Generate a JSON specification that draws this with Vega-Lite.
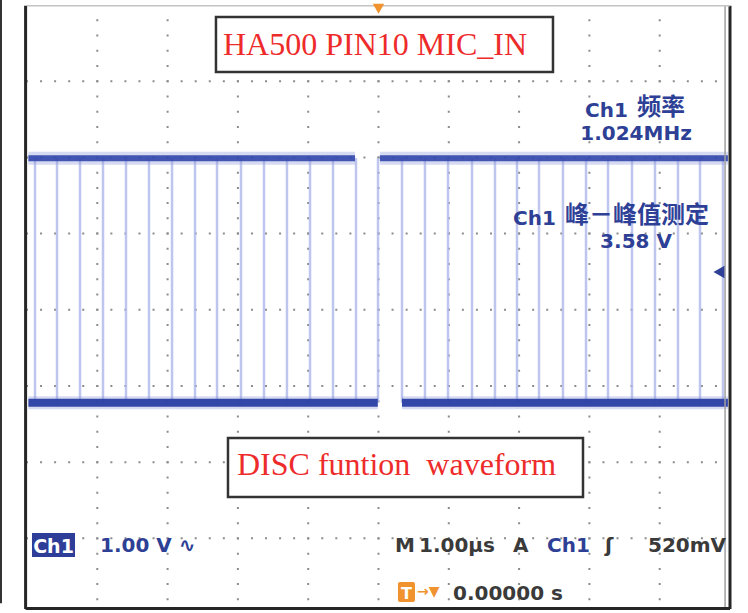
{
  "$schema": "https://vega.github.io/schema/vega-lite/v6.json",
  "width": 703,
  "height": 604,
  "autosize": {"type": "none"},
  "padding": {"left": 27, "top": 5, "right": 18, "bottom": 4},
  "background": "white",
  "config": {"view": {"stroke": null}},
  "datasets": {
    "gridx": [{"t": -4}, {"t": -3}, {"t": -2}, {"t": -1}, {"t": 0}, {"t": 1}, {"t": 2}, {"t": 3}, {"t": 4}],
    "gridy": [{"v": -3}, {"v": -2}, {"v": -1}, {"v": 0}, {"v": 1}, {"v": 2}, {"v": 3}],
    "edges": [
      {"t": -4.886}, {"t": -4.573}, {"t": -4.246}, {"t": -3.919}, {"t": -3.592}, {"t": -3.265}, {"t": -2.937}, {"t": -2.61},
      {"t": -2.297}, {"t": -1.956}, {"t": -1.629}, {"t": -1.302}, {"t": -0.974}, {"t": -0.647}, {"t": -0.32}, {"t": -0.007},
      {"t": 0.334}, {"t": 0.661}, {"t": 0.989}, {"t": 1.33}, {"t": 1.657}, {"t": 1.97}, {"t": 2.283}, {"t": 2.624},
      {"t": 2.952}, {"t": 3.265}, {"t": 3.606}, {"t": 3.933}, {"t": 4.26}, {"t": 4.573}, {"t": 4.9}
    ],
    "trace": [
      {"t": -4.98, "v": 1.99, "lvl": "hi", "seg": "h1"},
      {"t": -0.334, "v": 1.99, "lvl": "hi", "seg": "h1"},
      {"t": 0.02, "v": 1.99, "lvl": "hi", "seg": "h2"},
      {"t": 4.97, "v": 1.99, "lvl": "hi", "seg": "h2"},
      {"t": -4.98, "v": -1.22, "lvl": "lo", "seg": "l1"},
      {"t": -0.01, "v": -1.22, "lvl": "lo", "seg": "l1"},
      {"t": 0.334, "v": -1.22, "lvl": "lo", "seg": "l2"},
      {"t": 4.97, "v": -1.22, "lvl": "lo", "seg": "l2"}
    ],
    "whiteboxes": [
      {"t1": -2.312, "t2": 2.482, "v1": 3.843, "v2": 3.121},
      {"t1": -2.141, "t2": 2.909, "v1": -1.682, "v2": -2.457}
    ],
    "bluebox": [{"t1": -4.929, "t2": -4.317, "v1": -2.929, "v2": -3.244}],
    "orangebox": [{"t1": 0.277, "t2": 0.519, "v1": -3.572, "v2": -3.835}],
    "redtexts": [
      {"t": -2.212, "v": 3.344, "label": "HA500 PIN10 MIC_IN"},
      {"t": -2.013, "v": -2.168, "label": "DISC funtion \u00a0waveform"}
    ],
    "bluecenter": [
      {"t": 3.663, "v": 2.228, "label": "1.024MHz"},
      {"t": 3.663, "v": 0.811, "label": "3.58 V"}
    ],
    "bluecjk": [
      {"t": 3.677, "v": 2.556, "label": "频率"},
      {"t": 2.653, "v": 1.139, "label": "峰－峰值测定"}
    ],
    "blueleft": [
      {"t": 2.937, "v": 2.53, "label": "Ch1"},
      {"t": 1.913, "v": 1.113, "label": "Ch1"},
      {"t": -3.962, "v": -3.178, "label": "1.00 V ∿"},
      {"t": 2.397, "v": -3.178, "label": "Ch1"}
    ],
    "grayleft": [
      {"t": 0.235, "v": -3.178, "label": "M"},
      {"t": 0.576, "v": -3.178, "label": "1.00µs"},
      {"t": 1.913, "v": -3.178, "label": "A"},
      {"t": 3.222, "v": -3.178, "label": "ʃ"},
      {"t": 3.833, "v": -3.178, "label": "520mV"},
      {"t": 1.06, "v": -3.808, "label": "0.00000 s"}
    ],
    "whitech": [{"t": -4.623, "v": -3.192, "label": "Ch1"}],
    "whiteT": [{"t": 0.398, "v": -3.8, "label": "T"}],
    "orangeArrow": [{"t": 0.548, "v": -3.76, "label": "→▼"}],
    "topmarker": [{"t": 0, "v": 3.95}],
    "rightmarker": [{"t": 4.843, "v": 0.496}],
    "darkV": [{"t": -5.02}, {"t": 5}],
    "grayV": [{"t": 4.93}],
    "farleft": [{"t": -5.37}],
    "bottomB": [{"v": -3.92}],
    "topB": [{"v": 3.99}]
  },
  "layer": [
    {
      "data": {"name": "gridx"},
      "mark": {"type": "rule", "color": "#8c8c8c", "strokeWidth": 2, "strokeDash": [2, 13.24], "strokeDashOffset": 1},
      "encoding": {
        "x": {"field": "t", "type": "quantitative", "scale": {"domain": [-5, 5], "nice": false, "zero": false}, "axis": null},
        "y": {"datum": 4, "type": "quantitative", "scale": {"domain": [-3.927, 4], "nice": false, "zero": false}, "axis": null},
        "y2": {"datum": -3.927}
      }
    },
    {
      "data": {"name": "gridy"},
      "mark": {"type": "rule", "color": "#8c8c8c", "strokeWidth": 2, "strokeDash": [2, 12.06], "strokeDashOffset": 1},
      "encoding": {
        "x": {"datum": -5, "type": "quantitative", "scale": {"domain": [-5, 5], "nice": false, "zero": false}, "axis": null},
        "x2": {"datum": 5},
        "y": {"field": "v", "type": "quantitative", "scale": {"domain": [-3.927, 4], "nice": false, "zero": false}, "axis": null}
      }
    },
    {
      "data": {"name": "edges"},
      "mark": {"type": "rule", "color": "#aeb7ea", "strokeWidth": 2.5, "opacity": 0.8},
      "encoding": {
        "x": {"field": "t", "type": "quantitative", "scale": {"domain": [-5, 5], "nice": false, "zero": false}, "axis": null},
        "y": {"datum": 1.99, "type": "quantitative", "scale": {"domain": [-3.927, 4], "nice": false, "zero": false}, "axis": null},
        "y2": {"datum": -1.22}
      }
    },
    {
      "data": {"name": "trace"},
      "mark": {"type": "line", "color": "#8c97d8", "strokeWidth": 13, "opacity": 0.35, "strokeCap": "butt"},
      "encoding": {
        "x": {"field": "t", "type": "quantitative", "scale": {"domain": [-5, 5], "nice": false, "zero": false}, "axis": null},
        "y": {"field": "v", "type": "quantitative", "scale": {"domain": [-3.927, 4], "nice": false, "zero": false}, "axis": null},
        "detail": {"field": "seg"}
      }
    },
    {
      "data": {"name": "trace"},
      "transform": [{"filter": "datum.lvl == 'hi'"}],
      "mark": {"type": "line", "color": "#3246ab", "strokeWidth": 6, "opacity": 0.9, "strokeCap": "butt"},
      "encoding": {
        "x": {"field": "t", "type": "quantitative", "scale": {"domain": [-5, 5], "nice": false, "zero": false}, "axis": null},
        "y": {"field": "v", "type": "quantitative", "scale": {"domain": [-3.927, 4], "nice": false, "zero": false}, "axis": null},
        "detail": {"field": "seg"}
      }
    },
    {
      "data": {"name": "trace"},
      "transform": [{"filter": "datum.lvl == 'lo'"}],
      "mark": {"type": "line", "color": "#2a3fa4", "strokeWidth": 8, "opacity": 0.95, "strokeCap": "butt"},
      "encoding": {
        "x": {"field": "t", "type": "quantitative", "scale": {"domain": [-5, 5], "nice": false, "zero": false}, "axis": null},
        "y": {"field": "v", "type": "quantitative", "scale": {"domain": [-3.927, 4], "nice": false, "zero": false}, "axis": null},
        "detail": {"field": "seg"}
      }
    },
    {
      "data": {"name": "darkV"},
      "mark": {"type": "rule", "color": "#262626", "strokeWidth": 3},
      "encoding": {
        "x": {"field": "t", "type": "quantitative", "scale": {"domain": [-5, 5], "nice": false, "zero": false}, "axis": null},
        "y": {"datum": 3.99, "type": "quantitative", "scale": {"domain": [-3.927, 4], "nice": false, "zero": false}, "axis": null},
        "y2": {"datum": -3.927}
      }
    },
    {
      "data": {"name": "grayV"},
      "mark": {"type": "rule", "color": "#a0a0a0", "strokeWidth": 1.5},
      "encoding": {
        "x": {"field": "t", "type": "quantitative", "scale": {"domain": [-5, 5], "nice": false, "zero": false}, "axis": null},
        "y": {"datum": 3.99, "type": "quantitative", "scale": {"domain": [-3.927, 4], "nice": false, "zero": false}, "axis": null},
        "y2": {"datum": -3.927}
      }
    },
    {
      "data": {"name": "farleft"},
      "mark": {"type": "rule", "color": "#333333", "strokeWidth": 2},
      "encoding": {
        "x": {"field": "t", "type": "quantitative", "scale": {"domain": [-5, 5], "nice": false, "zero": false}, "axis": null},
        "y": {"datum": 4.07, "type": "quantitative", "scale": {"domain": [-3.927, 4], "nice": false, "zero": false}, "axis": null},
        "y2": {"datum": -3.85}
      }
    },
    {
      "data": {"name": "bottomB"},
      "mark": {"type": "rule", "color": "#262626", "strokeWidth": 3},
      "encoding": {
        "x": {"datum": -5.02, "type": "quantitative", "scale": {"domain": [-5, 5], "nice": false, "zero": false}, "axis": null},
        "x2": {"datum": 5},
        "y": {"field": "v", "type": "quantitative", "scale": {"domain": [-3.927, 4], "nice": false, "zero": false}, "axis": null}
      }
    },
    {
      "data": {"name": "topB"},
      "mark": {"type": "rule", "color": "#c4c4c4", "strokeWidth": 1.5},
      "encoding": {
        "x": {"datum": -5, "type": "quantitative", "scale": {"domain": [-5, 5], "nice": false, "zero": false}, "axis": null},
        "x2": {"datum": 5},
        "y": {"field": "v", "type": "quantitative", "scale": {"domain": [-3.927, 4], "nice": false, "zero": false}, "axis": null}
      }
    },
    {
      "data": {"name": "whiteboxes"},
      "mark": {"type": "rect", "fill": "white", "stroke": "#333333", "strokeWidth": 2.5},
      "encoding": {
        "x": {"field": "t1", "type": "quantitative", "scale": {"domain": [-5, 5], "nice": false, "zero": false}, "axis": null},
        "x2": {"field": "t2"},
        "y": {"field": "v1", "type": "quantitative", "scale": {"domain": [-3.927, 4], "nice": false, "zero": false}, "axis": null},
        "y2": {"field": "v2"}
      }
    },
    {
      "data": {"name": "bluebox"},
      "mark": {"type": "rect", "fill": "#2d3d98"},
      "encoding": {
        "x": {"field": "t1", "type": "quantitative", "scale": {"domain": [-5, 5], "nice": false, "zero": false}, "axis": null},
        "x2": {"field": "t2"},
        "y": {"field": "v1", "type": "quantitative", "scale": {"domain": [-3.927, 4], "nice": false, "zero": false}, "axis": null},
        "y2": {"field": "v2"}
      }
    },
    {
      "data": {"name": "orangebox"},
      "mark": {"type": "rect", "fill": "#f0922e", "cornerRadius": 2},
      "encoding": {
        "x": {"field": "t1", "type": "quantitative", "scale": {"domain": [-5, 5], "nice": false, "zero": false}, "axis": null},
        "x2": {"field": "t2"},
        "y": {"field": "v1", "type": "quantitative", "scale": {"domain": [-3.927, 4], "nice": false, "zero": false}, "axis": null},
        "y2": {"field": "v2"}
      }
    },
    {
      "data": {"name": "redtexts"},
      "mark": {"type": "text", "font": "Liberation Serif", "fontSize": 32, "color": "#ee2b2b", "align": "left", "baseline": "alphabetic"},
      "encoding": {
        "x": {"field": "t", "type": "quantitative", "scale": {"domain": [-5, 5], "nice": false, "zero": false}, "axis": null},
        "y": {"field": "v", "type": "quantitative", "scale": {"domain": [-3.927, 4], "nice": false, "zero": false}, "axis": null},
        "text": {"field": "label"}
      }
    },
    {
      "data": {"name": "bluecenter"},
      "mark": {"type": "text", "font": "DejaVu Sans", "fontSize": 20, "fontWeight": "bold", "color": "#2e3f96", "align": "center", "baseline": "alphabetic"},
      "encoding": {
        "x": {"field": "t", "type": "quantitative", "scale": {"domain": [-5, 5], "nice": false, "zero": false}, "axis": null},
        "y": {"field": "v", "type": "quantitative", "scale": {"domain": [-3.927, 4], "nice": false, "zero": false}, "axis": null},
        "text": {"field": "label"}
      }
    },
    {
      "data": {"name": "bluecjk"},
      "mark": {"type": "text", "font": "Noto Sans CJK SC", "fontSize": 24, "fontWeight": "bold", "color": "#2e3f96", "align": "left", "baseline": "alphabetic"},
      "encoding": {
        "x": {"field": "t", "type": "quantitative", "scale": {"domain": [-5, 5], "nice": false, "zero": false}, "axis": null},
        "y": {"field": "v", "type": "quantitative", "scale": {"domain": [-3.927, 4], "nice": false, "zero": false}, "axis": null},
        "text": {"field": "label"}
      }
    },
    {
      "data": {"name": "blueleft"},
      "mark": {"type": "text", "font": "DejaVu Sans", "fontSize": 20, "fontWeight": "bold", "color": "#2e3f96", "align": "left", "baseline": "alphabetic"},
      "encoding": {
        "x": {"field": "t", "type": "quantitative", "scale": {"domain": [-5, 5], "nice": false, "zero": false}, "axis": null},
        "y": {"field": "v", "type": "quantitative", "scale": {"domain": [-3.927, 4], "nice": false, "zero": false}, "axis": null},
        "text": {"field": "label"}
      }
    },
    {
      "data": {"name": "grayleft"},
      "mark": {"type": "text", "font": "DejaVu Sans", "fontSize": 20, "fontWeight": "bold", "color": "#3a3a3a", "align": "left", "baseline": "alphabetic"},
      "encoding": {
        "x": {"field": "t", "type": "quantitative", "scale": {"domain": [-5, 5], "nice": false, "zero": false}, "axis": null},
        "y": {"field": "v", "type": "quantitative", "scale": {"domain": [-3.927, 4], "nice": false, "zero": false}, "axis": null},
        "text": {"field": "label"}
      }
    },
    {
      "data": {"name": "whitech"},
      "mark": {"type": "text", "font": "DejaVu Sans", "fontSize": 19, "fontWeight": "bold", "color": "white", "align": "center", "baseline": "alphabetic"},
      "encoding": {
        "x": {"field": "t", "type": "quantitative", "scale": {"domain": [-5, 5], "nice": false, "zero": false}, "axis": null},
        "y": {"field": "v", "type": "quantitative", "scale": {"domain": [-3.927, 4], "nice": false, "zero": false}, "axis": null},
        "text": {"field": "label"}
      }
    },
    {
      "data": {"name": "whiteT"},
      "mark": {"type": "text", "font": "DejaVu Sans", "fontSize": 16, "fontWeight": "bold", "color": "white", "align": "center", "baseline": "alphabetic"},
      "encoding": {
        "x": {"field": "t", "type": "quantitative", "scale": {"domain": [-5, 5], "nice": false, "zero": false}, "axis": null},
        "y": {"field": "v", "type": "quantitative", "scale": {"domain": [-3.927, 4], "nice": false, "zero": false}, "axis": null},
        "text": {"field": "label"}
      }
    },
    {
      "data": {"name": "orangeArrow"},
      "mark": {"type": "text", "font": "DejaVu Sans", "fontSize": 14, "fontWeight": "bold", "color": "#f0922e", "align": "left", "baseline": "alphabetic"},
      "encoding": {
        "x": {"field": "t", "type": "quantitative", "scale": {"domain": [-5, 5], "nice": false, "zero": false}, "axis": null},
        "y": {"field": "v", "type": "quantitative", "scale": {"domain": [-3.927, 4], "nice": false, "zero": false}, "axis": null},
        "text": {"field": "label"}
      }
    },
    {
      "data": {"name": "topmarker"},
      "mark": {"type": "point", "shape": "triangle-down", "filled": true, "color": "#f0922e", "size": 130, "opacity": 1},
      "encoding": {
        "x": {"field": "t", "type": "quantitative", "scale": {"domain": [-5, 5], "nice": false, "zero": false}, "axis": null},
        "y": {"field": "v", "type": "quantitative", "scale": {"domain": [-3.927, 4], "nice": false, "zero": false}, "axis": null}
      }
    },
    {
      "data": {"name": "rightmarker"},
      "mark": {"type": "point", "shape": "triangle-left", "filled": true, "color": "#2e3f96", "size": 160, "opacity": 1},
      "encoding": {
        "x": {"field": "t", "type": "quantitative", "scale": {"domain": [-5, 5], "nice": false, "zero": false}, "axis": null},
        "y": {"field": "v", "type": "quantitative", "scale": {"domain": [-3.927, 4], "nice": false, "zero": false}, "axis": null}
      }
    }
  ]
}
